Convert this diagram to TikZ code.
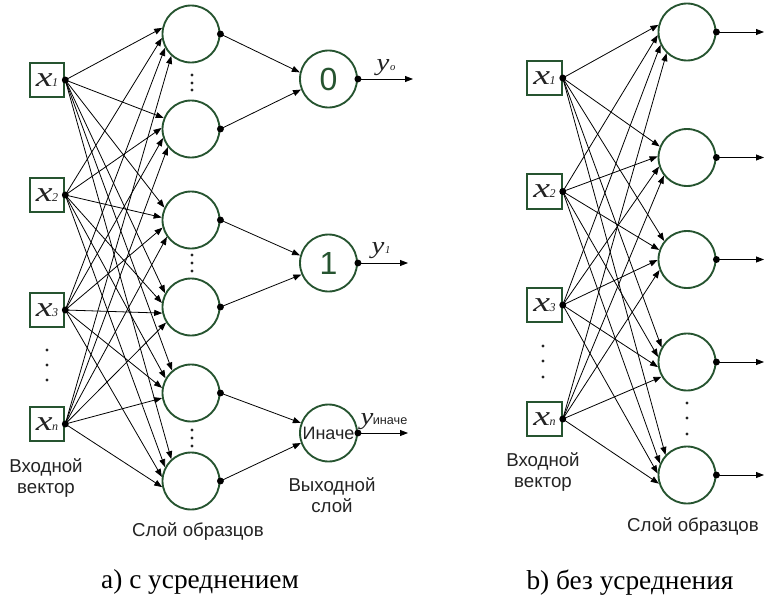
\documentclass[tikz,border=0pt]{standalone}
\usepackage{fontspec}
\setmainfont{Liberation Serif}
\setsansfont{Liberation Sans}
\usetikzlibrary{arrows.meta}
\definecolor{cgreen}{RGB}{38,84,48}
\definecolor{ctext}{RGB}{35,35,35}
\tikzset{
  inbox/.style={draw=cgreen, line width=1.4pt, minimum size=26pt, inner sep=0pt},
  neuron/.style={circle, draw=cgreen, line width=1.4pt, minimum size=42.75pt, inner sep=0pt},
  conn/.style={line width=0.6pt, -{Triangle[length=6pt,width=4.5pt]}},
  lab/.style={font=\sffamily\fontsize{14}{15.5}\selectfont, text=ctext, align=center},
  captext/.style={font=\fontsize{20.5}{22}\selectfont, text=black},
  vdot/.style={fill=ctext, circle, inner sep=0pt, minimum size=2.4pt},
  bigdot/.style={fill=black},
}
\newcommand\inlab[1]{\scalebox{1.35}[1]{\fontsize{21}{21}\selectfont\itshape x}\kern-0.5pt{\fontsize{9}{9}\selectfont\itshape #1}}
\newcommand\outlab[1]{\scalebox{1.2}[1]{\fontsize{18}{18}\selectfont\itshape y}\kern0.5pt{\fontsize{8}{8}\selectfont\itshape #1}}
\begin{document}
\begin{tikzpicture}[x=0.75pt, y=-0.75pt]
\useasboundingbox (0,0) rectangle (764,600);

% ===================== panel a =====================
\foreach \i/\y in {1/80,2/195,3/310,n/424}
  \node[inbox, text=ctext] (ax\i) at (47,\y) {\inlab{\i}};
\foreach \j/\y in {1/34,2/129,3/220,4/307,5/393,6/481}
  \node[neuron] (ah\j) at (191,\y) {};
\foreach \j/\a in {1/168,2/158,3/155,4/152,5/130,6/132}{
  \foreach \i [count=\k from 0] in {1,2,3,n}{
    \pgfmathtruncatemacro\ang{\a+20*\k}
    \draw[conn] (ax\i.east) -- (ah\j.\ang);
  }
}
\node[neuron, text=cgreen, font=\sffamily\fontsize{24}{24}\selectfont] (ao0) at (328.5,79) {0};
\node[neuron, text=cgreen, font=\sffamily\fontsize{24}{24}\selectfont] (ao1) at (328.5,263) {1};
\node[neuron, text=ctext, font=\sffamily\fontsize{13.5}{13.5}\selectfont] (aoe) at (328.5,433) {Иначе};
\draw[conn] (ah1.east) -- (ao0.167);
\draw[conn] (ah2.east) -- (ao0.201);
\draw[conn] (ah3.east) -- (ao1.165);
\draw[conn] (ah4.east) -- (ao1.203);
\draw[conn] (ah5.east) -- (aoe.160);
\draw[conn] (ah6.east) -- (aoe.200);
\coordinate (ae0) at (413,79);
\coordinate (ae1) at (408,263);
\coordinate (aee) at (408,433);
\draw[conn] (ao0.east) -- (ae0);
\draw[conn] (ao1.east) -- (ae1);
\draw[conn] (aoe.east) -- (aee);
\foreach \i in {1,2,3,n} \fill[bigdot] (ax\i.east) circle (2.6pt);
\foreach \j in {1,...,6} \fill[bigdot] (ah\j.east) circle (2.6pt);
\foreach \o in {0,1,e} \fill[bigdot] (ao\o.east) circle (2.6pt);
\node[text=ctext] (ly0) at (386,68) {\outlab{o}};
\node[text=ctext] (ly1) at (381,251) {\outlab{1}};
\node[text=ctext] (lye) at (384,422) {\scalebox{1.2}[1]{\fontsize{18}{18}\selectfont\itshape y}\kern-0.5pt{\sffamily\fontsize{9.5}{9.5}\selectfont иначе}};
% dots
\foreach \y in {75,83,90} \node[vdot] (ad1\y) at (192,\y) {};
\foreach \y in {255,263,271} \node[vdot] (ad2\y) at (192,\y) {};
\foreach \y in {430,438,446} \node[vdot] (ad3\y) at (192,\y) {};
\foreach \y in {350,365,380} \node[vdot] (ad4\y) at (47,\y) {};
% labels
\node[lab] (ain) at (46,478) {Входной\\вектор};
\node[lab] (aout) at (332,495) {Выходной\\слой};
\node[lab] (ahid) at (198,532) {Слой образцов};
\node[captext] (acap) at (200,582) {a) с усреднением};

% ===================== panel b =====================
\foreach \i/\y in {1/78,2/191.5,3/305,n/419}
  \node[inbox, text=ctext] (bx\i) at (544.5,\y) {\inlab{\i}};
\foreach \j/\y in {1/32,2/157.5,3/259.5,4/362,5/475}
  \node[neuron] (bh\j) at (687,\y) {};
\foreach \j/\a in {1/166,2/158,3/141,4/150,5/137}{
  \foreach \i [count=\k from 0] in {1,2,3,n}{
    \pgfmathtruncatemacro\ang{\a+20*\k}
    \draw[conn] (bx\i.east) -- (bh\j.\ang);
  }
}
\foreach \j/\y in {1/32,2/157.5,3/259.5,4/362,5/475}{
  \coordinate (be\j) at (764,\y);
  \draw[conn] (bh\j.east) -- (be\j);
}
\foreach \i in {1,2,3,n} \fill[bigdot] (bx\i.east) circle (2.6pt);
\foreach \j in {1,...,5} \fill[bigdot] (bh\j.east) circle (2.6pt);
\foreach \y in {403,418,434} \node[vdot] (bd1\y) at (687,\y) {};
\foreach \y in {346,361,377} \node[vdot] (bd2\y) at (543,\y) {};
\node[lab] (bin) at (543,472) {Входной\\вектор};
\node[lab] (bhid) at (693,527) {Слой образцов};
\node[captext] (bcap) at (630,583) {b) без усреднения};
\end{tikzpicture}
\end{document}
